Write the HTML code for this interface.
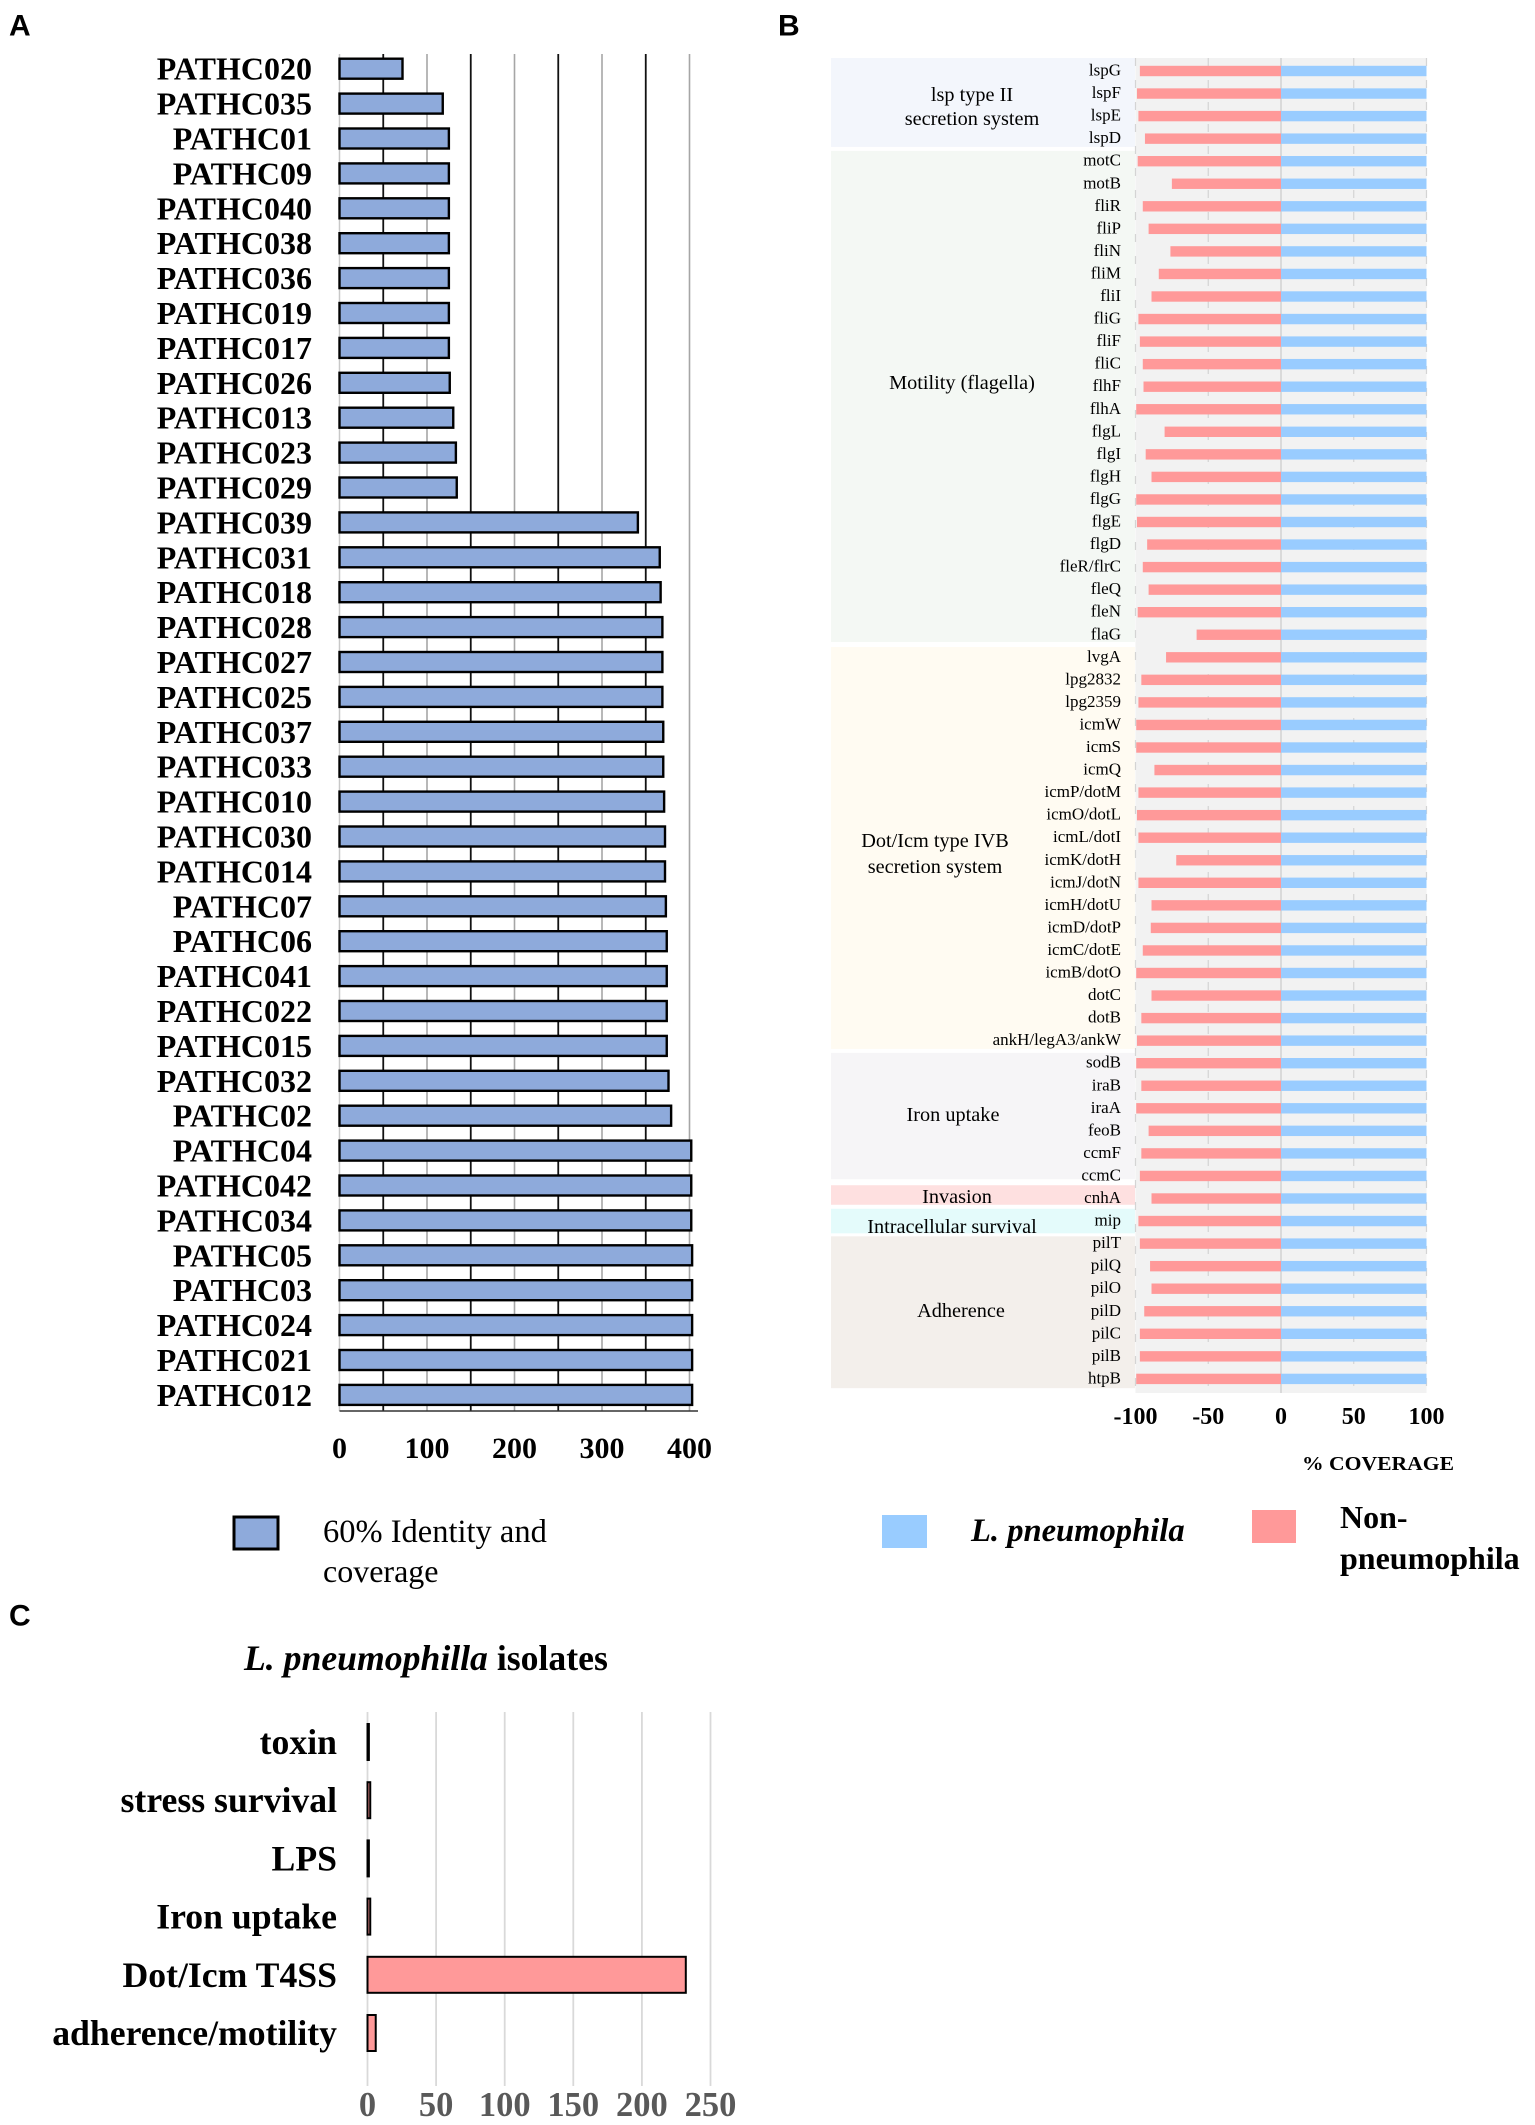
<!DOCTYPE html>
<html lang="en">
<head>
<meta charset="utf-8">
<title>Legionella virulence gene coverage</title>
<style>
html,body{margin:0;padding:0;background:#fff;}
svg{display:block;}
text{font-family:"Liberation Serif",serif;fill:#000;dominant-baseline:central;}
.panel-letter{font-family:"Liberation Sans",sans-serif;font-weight:700;font-size:30px;}
</style>
</head>
<body>
<svg id="figure" xmlns="http://www.w3.org/2000/svg" width="1535" height="2125" viewBox="0 0 1535 2125">
  <text class="panel-letter" x="9" y="26">A</text>
  <text class="panel-letter" x="778" y="26">B</text>
  <text class="panel-letter" x="9" y="1616">C</text>
  <g id="chartA"></g>
  <g id="chartB"></g>
  <g id="chartC"></g>

  <rect x="234" y="1517" width="44" height="32" fill="#8eaadb" stroke="#000" stroke-width="3"/>
  <text x="323" y="1532" font-size="32.5">60% Identity and</text>
  <text x="323" y="1571" font-size="32">coverage</text>

  <rect x="882" y="1515" width="45" height="33" fill="#99ccff"/>
  <text x="971" y="1531" font-size="32.6" font-weight="700" font-style="italic">L. pneumophila</text>
  <rect x="1252" y="1510" width="44" height="33" fill="#ff9999"/>
  <text x="1340" y="1517" font-size="32" font-weight="700">Non-</text>
  <text x="1340" y="1558" font-size="32" font-weight="700">pneumophila</text>

  <text x="244" y="1658" font-size="35.7" font-weight="700"><tspan font-style="italic">L. pneumophilla</tspan> isolates</text>
  <text x="1302" y="1464" font-size="20" font-weight="700" textLength="152" lengthAdjust="spacingAndGlyphs">% COVERAGE</text>
</svg>
<script>
// Panel A data
const isolateNames = ["PATHC020","PATHC035","PATHC01","PATHC09","PATHC040","PATHC038","PATHC036","PATHC019","PATHC017","PATHC026","PATHC013","PATHC023","PATHC029","PATHC039","PATHC031","PATHC018","PATHC028","PATHC027","PATHC025","PATHC037","PATHC033","PATHC010","PATHC030","PATHC014","PATHC07","PATHC06","PATHC041","PATHC022","PATHC015","PATHC032","PATHC02","PATHC04","PATHC042","PATHC034","PATHC05","PATHC03","PATHC024","PATHC021","PATHC012"];
const isolateCounts = [72,118,125,125,125,125,125,125,125,126,130,133,134,341,366,367,369,369,369,370,370,371,372,372,373,374,374,374,374,376,379,402,402,402,403,403,403,403,403];
const isolateTicks = [0,100,200,300,400];
const isolateBlackGrid = [50,150,250,350];
const isolateGrayGrid = [100,200,300,400];

// Panel B data
const geneNames = ["lspG","lspF","lspE","lspD","motC","motB","fliR","fliP","fliN","fliM","fliI","fliG","fliF","fliC","flhF","flhA","flgL","flgI","flgH","flgG","flgE","flgD","fleR/flrC","fleQ","fleN","flaG","lvgA","lpg2832","lpg2359","icmW","icmS","icmQ","icmP/dotM","icmO/dotL","icmL/dotI","icmK/dotH","icmJ/dotN","icmH/dotU","icmD/dotP","icmC/dotE","icmB/dotO","dotC","dotB","ankH/legA3/ankW","sodB","iraB","iraA","feoB","ccmF","ccmC","cnhA","mip","pilT","pilQ","pilO","pilD","pilC","pilB","htpB"];
const nonPneumophila = [-97,-99,-98,-93.5,-98.5,-75,-95,-91,-76,-84,-89,-98,-97,-95,-94.5,-99.5,-80,-93,-89,-99.5,-99,-92,-95,-91,-98.5,-58,-79,-96,-98,-99.5,-99.5,-87,-98,-99,-98,-72,-98,-89,-89.5,-95,-99.5,-89,-96,-99,-99.5,-96,-99.5,-91,-96,-97,-89,-98,-97,-90,-89,-94,-97,-97,-99.5];
const pneumophila = [100,100,100,100,100,100,100,100,100,100,100,100,100,100,100,100,100,100,100,100,100,100,100,100,100,100,100,100,100,100,100,100,100,100,100,100,100,100,100,100,100,100,100,100,100,100,100,100,100,100,100,100,100,100,100,100,100,100,100];
const coverageTicks = [-100,-50,0,50,100];
const groupNames = [["lsp type II","secretion system"],["Motility (flagella)"],["Dot/Icm type IVB","secretion system"],["Iron uptake"],["Invasion"],["Intracellular survival"],["Adherence"]];
const groupFirstGene = ["lspG","motC","lvgA","sodB","cnhA","mip","pilT"];
const groupLastGene = ["lspD","flaG","ankH/legA3/ankW","ccmC","cnhA","mip","htpB"];

// Panel C data
const categoryNames = ["toxin","stress survival","LPS","Iron uptake","Dot/Icm T4SS","adherence/motility"];
const categoryCounts = [1,2,1,2,232,6];
const categoryTicks = [0,50,100,150,200,250];

const NS = "http://www.w3.org/2000/svg";
function shape(parent, tag, props, text) {
  const el = document.createElementNS(NS, tag);
  for (const k in props) el.setAttribute(k, props[k]);
  if (text !== undefined) el.textContent = text;
  parent.appendChild(el);
  return el;
}
function slug(s) { return String(s).toLowerCase().replace(/[^a-z0-9]+/g, '-').replace(/^-|-$/g, ''); }

/* ---------- Panel A ---------- */
(function () {
  const g = document.getElementById('chartA');
  const x = v => 339.5 + v * 0.875;
  const top = 54, bottom = 1411, firstY = 68.7, step = 34.9;
  const y = i => firstY + i * step;
  isolateGrayGrid.forEach(v => {
    const l = shape(g, 'line', {x1: x(v), x2: x(v), y1: top, y2: bottom, stroke: '#a6a6a6', 'stroke-width': 1.6});
    
    
  });
  isolateBlackGrid.forEach(v => {
    const l = shape(g, 'line', {x1: x(v), x2: x(v), y1: top, y2: bottom, stroke: '#111', 'stroke-width': 1.8});
    
    
  });
  const yAxis = shape(g, 'line', {x1: x(0), x2: x(0), y1: top, y2: bottom, stroke: '#c8c8c8', 'stroke-width': 1.5});
  
  
  const xAxis = shape(g, 'line', {x1: x(0), x2: 698, y1: bottom, y2: bottom, stroke: '#333', 'stroke-width': 1.6});
  
  
  isolateNames.forEach((name, i) => {
    const bar = shape(g, 'rect', {x: x(0), y: y(i) - 10, width: x(isolateCounts[i]) - x(0), height: 20, fill: '#8eaadb', stroke: '#000', 'stroke-width': 2.4});
    
    
    const label = shape(g, 'text', {x: 312, y: y(i), 'text-anchor': 'end', 'font-size': 32, 'font-weight': 700}, name);
    
    
  });
  isolateTicks.forEach(v => {
    const t = shape(g, 'text', {x: x(v), y: 1448.5, 'text-anchor': 'middle', 'font-size': 30, 'font-weight': 700}, v);
    
    
  });
})();

/* ---------- Panel B ---------- */
(function () {
  const g = document.getElementById('chartB');
  const x = v => 1281 + v * 1.455;
  const top = 58, bottom = 1393, firstY = 71, step = 22.55, barH = 10.4;
  const y = i => firstY + i * step;
  const bg = shape(g, 'rect', {x: x(-100), y: top, width: x(100) - x(-100), height: bottom - top, fill: '#f2f2f2'});
  
  
  const bandFills = ['#f3f6fc', '#f4f8f4', '#fffbf2', '#f6f5f7', '#fee0e0', '#e4fbfb', '#f3efeb'];
  const bandTopPad = [0, 1, 1, 1, -2, -1, 4];
  const bandBottomPad = [-3, -4, -3, -8, -5, 1, -2];
  groupNames.forEach((lines, k) => {
    const a = geneNames.indexOf(groupFirstGene[k]);
    const b = geneNames.indexOf(groupLastGene[k]);
    const y1 = k === 0 ? top : y(a) - step / 2 + bandTopPad[k];
    const y2 = y(b) + step / 2 + bandBottomPad[k];
    const r = shape(g, 'rect', {x: 831, y: y1, width: 1135 - 831, height: y2 - y1, fill: bandFills[k]});
    
    
  });
  coverageTicks.forEach(v => {
    const l = shape(g, 'line', {x1: x(v), x2: x(v), y1: top, y2: bottom, stroke: '#d4d4d4', 'stroke-width': v === 0 ? 1.6 : 1.2, 'stroke-dasharray': v === 0 ? 'none' : '8 14'});
    
    
  });
  geneNames.forEach((name, i) => {
    const red = shape(g, 'rect', {x: x(nonPneumophila[i]), y: y(i) - barH / 2, width: x(0) - x(nonPneumophila[i]), height: barH, fill: '#ff9999'});
    
    
    const blue = shape(g, 'rect', {x: x(0), y: y(i) - barH / 2, width: x(pneumophila[i]) - x(0), height: barH, fill: '#99ccff'});
    
    
    const t = shape(g, 'text', {x: 1121, y: y(i) - 1, 'text-anchor': 'end', 'font-size': 17}, name);
    
    
  });
  const groupLabelX = [972, 962, 935, 953, 957, 952, 961];
  const groupLabelY = [[95, 119], [383], [841, 867], [1115], [1197], [1227], [1311]];
  groupNames.forEach((lines, k) => {
    lines.forEach((line, j) => {
      const t = shape(g, 'text', {x: groupLabelX[k], y: groupLabelY[k][j], 'text-anchor': 'middle', 'font-size': 20.3}, line);
      
      
    });
  });
  coverageTicks.forEach(v => {
    const t = shape(g, 'text', {x: x(v), y: 1417, 'text-anchor': 'middle', 'font-size': 24, 'font-weight': 700}, v);
    
    
  });
})();

/* ---------- Panel C ---------- */
(function () {
  const g = document.getElementById('chartC');
  const x = v => 367.5 + v * 1.372;
  const top = 1712, bottom = 2086, firstY = 1742, step = 58.2, barH = 36;
  const y = i => firstY + i * step;
  categoryTicks.forEach(v => {
    const l = shape(g, 'line', {x1: x(v), x2: x(v), y1: top, y2: bottom, stroke: '#d9d9d9', 'stroke-width': 1.8});
    
    
    const t = shape(g, 'text', {x: x(v), y: 2105, 'text-anchor': 'middle', 'font-size': 34.5, 'font-weight': 700, style: 'fill:#595959'}, v);
    
    
  });
  categoryNames.forEach((name, i) => {
    const bar = shape(g, 'rect', {x: x(0), y: y(i) - barH / 2, width: x(categoryCounts[i]) - x(0), height: barH, fill: '#ff9999', stroke: '#000', 'stroke-width': 2});
    
    
    const t = shape(g, 'text', {x: 337, y: y(i), 'text-anchor': 'end', 'font-size': 35.7, 'font-weight': 700}, name);
    
    
  });
})();
</script>
</body>
</html>
